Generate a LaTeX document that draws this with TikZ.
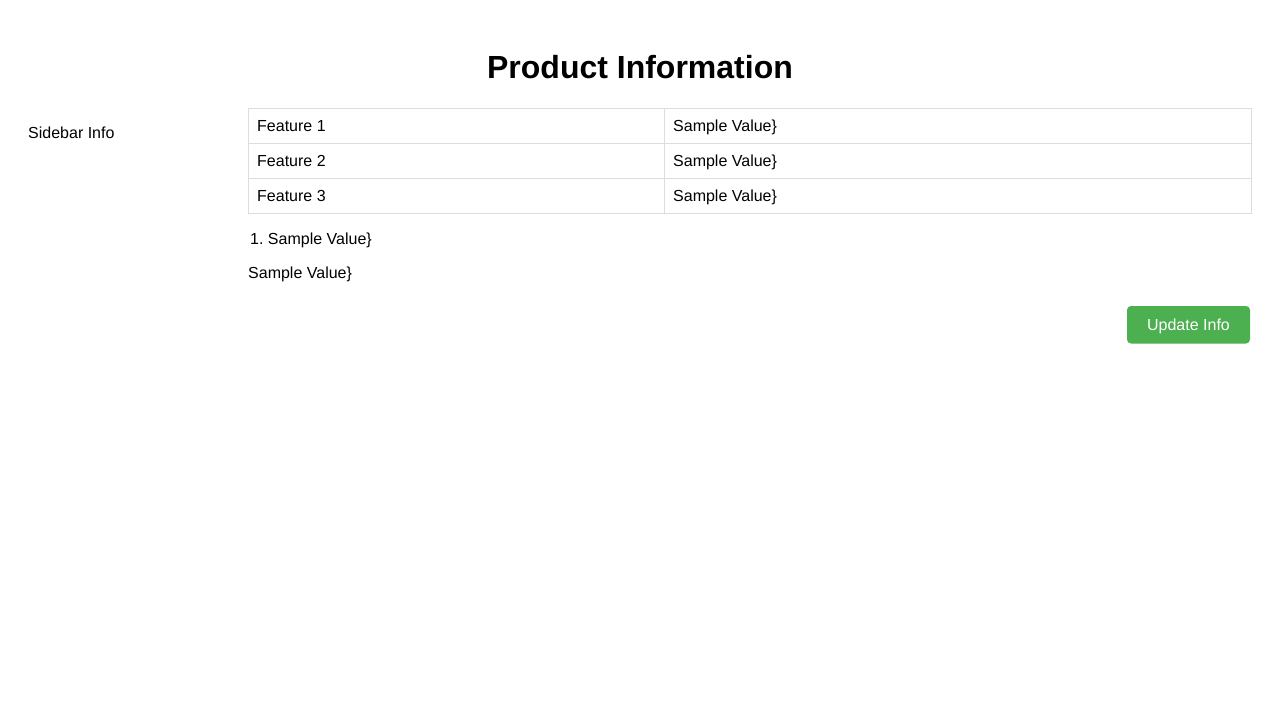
\documentclass[tikz,border=0pt]{standalone}
\usepackage{fontspec}
\setmainfont{Liberation Sans}
\usetikzlibrary{positioning}
\definecolor{cellline}{HTML}{DDDDDD}
\definecolor{btngreen}{HTML}{4CAF50}
\tikzset{
	txt/.style={anchor=base west, inner sep=0pt, font=\fontsize{16}{19}\selectfont},
	cell/.style={draw=cellline, line width=1pt},
}
\frenchspacing

\begin{document}
\begin{tikzpicture}[x=1pt, y=-1pt]
		%%%%% START %%%%%
		
		\useasboundingbox[fill=white] (0, 0) rectangle (1280, 720);
		
		\node[anchor=base, inner sep=0pt, font=\fontsize{32}{38}\selectfont\bfseries] (title) at (640, 78.5) {Product Information};
		
		\node[txt] (sidebar) at (28, 138) {Sidebar Info};
		
		\draw[cell] (248.5, 108.5) rectangle (1251.5, 213.5);
		\draw[cell] (248.5, 143.5) -- (1251.5, 143.5);
		\draw[cell] (248.5, 178.5) -- (1251.5, 178.5);
		\draw[cell] (664.5, 108.5) -- (664.5, 213.5);
		
		\node[txt] (feat1) at (257, 131.8) {Feature 1};
		\node[txt] (val1) at (673, 131.8) {Sample Value\}};
		\node[txt] (feat2) at (257, 166.8) {Feature 2};
		\node[txt] (val2) at (673, 166.8) {Sample Value\}};
		\node[txt] (feat3) at (257, 201.8) {Feature 3};
		\node[txt] (val3) at (673, 201.8) {Sample Value\}};
		
		\node[txt] (item1) at (250, 244) {1.\ Sample Value\}};
		\node[txt] (para) at (248, 278) {Sample Value\}};
		
		\draw[fill=btngreen, draw=none, rounded corners=4pt] (1127, 306) rectangle (1250, 343.5);
		\node[txt, anchor=base, text=white] (update) at (1188.5, 330.5) {Update Info};
		
		%%%%% END %%%%%
	\end{tikzpicture}
\end{document}
